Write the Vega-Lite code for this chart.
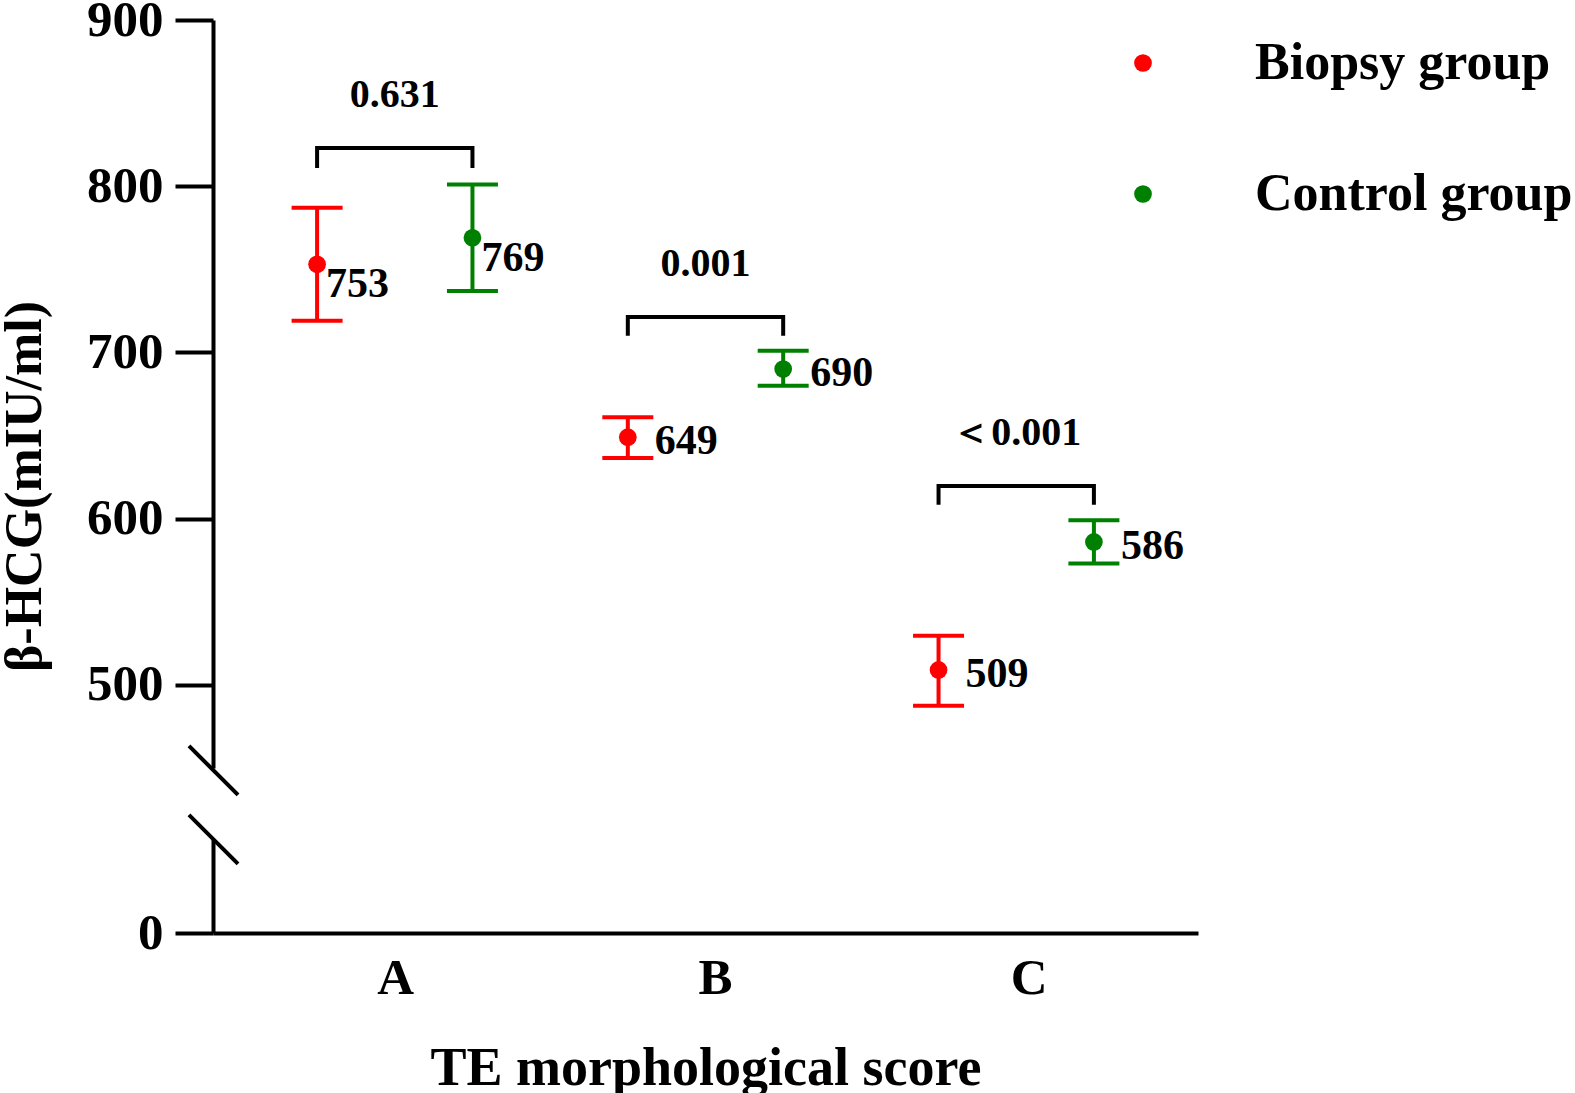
{
  "$schema": "https://vega.github.io/schema/vega-lite/v6.json",
  "padding": {"left": -2, "top": -6, "right": 0, "bottom": 0},
  "background": "white",
  "spacing": 71,
  "bounds": "flush",
  "config": {
    "view": {"stroke": null},
    "font": "Liberation Serif",
    "axis": {
      "domainColor": "black", "domainWidth": 4, "tickColor": "black", "tickWidth": 4, "tickSize": 38,
      "labelFont": "Liberation Serif", "labelFontWeight": "bold", "labelFontSize": 51, "labelColor": "black",
      "titleFont": "Liberation Serif", "titleFontWeight": "bold", "titleFontSize": 54, "titleColor": "black",
      "grid": false, "labelPadding": 12
    },
    "text": {"font": "Liberation Serif", "fontWeight": "bold", "color": "black"}
  },
  "datasets": {
    "points": [
      {"score": "A", "group": "Biopsy group", "mean": 753, "lower": 719, "upper": 787},
      {"score": "A", "group": "Control group", "mean": 769, "lower": 737, "upper": 801},
      {"score": "B", "group": "Biopsy group", "mean": 649, "lower": 636.5, "upper": 661},
      {"score": "B", "group": "Control group", "mean": 690, "lower": 680, "upper": 701},
      {"score": "C", "group": "Biopsy group", "mean": 509, "lower": 487.5, "upper": 529.5},
      {"score": "C", "group": "Control group", "mean": 586, "lower": 573, "upper": 599}
    ],
    "brackets": [
      {"score": "A", "group": "Biopsy group", "y": 811, "order": 1},
      {"score": "A", "group": "Biopsy group", "y": 823, "order": 2},
      {"score": "A", "group": "Control group", "y": 823, "order": 3},
      {"score": "A", "group": "Control group", "y": 811, "order": 4},
      {"score": "B", "group": "Biopsy group", "y": 710, "order": 1},
      {"score": "B", "group": "Biopsy group", "y": 721.3, "order": 2},
      {"score": "B", "group": "Control group", "y": 721.3, "order": 3},
      {"score": "B", "group": "Control group", "y": 710, "order": 4},
      {"score": "C", "group": "Biopsy group", "y": 608.3, "order": 1},
      {"score": "C", "group": "Biopsy group", "y": 619.7, "order": 2},
      {"score": "C", "group": "Control group", "y": 619.7, "order": 3},
      {"score": "C", "group": "Control group", "y": 608.3, "order": 4}
    ],
    "pvalues": [
      {"score": "A", "y": 823, "p": "0.631"},
      {"score": "B", "y": 721.3, "p": "0.001"},
      {"score": "C", "y": 619.7, "p": "＜0.001"}
    ],
    "breakTop": [{"x": -2.44, "y": 463.3, "x2": 2.54, "y2": 433.8}],
    "breakBottom": [{"x": -2.44, "y": 71, "x2": 2.54, "y2": 41.5}]
  },
  "vconcat": [
    {
      "width": 985,
      "height": 748,
      "resolve": {"scale": {"x": "independent"}},
      "layer": [
        {
          "data": {"name": "breakTop"},
          "mark": {"type": "rule", "color": "black", "strokeWidth": 4, "clip": false},
          "encoding": {
            "x": {"field": "x", "type": "quantitative", "scale": {"domain": [0, 100]}, "axis": null},
            "x2": {"field": "x2"},
            "y": {"field": "y", "type": "quantitative", "scale": {"domain": [450, 900], "nice": false, "zero": false}, "axis": {"values": [500, 600, 700, 800, 900], "title": "β-HCG(mIU/ml)", "titleFontSize": 52, "titleY": 466, "titlePadding": 35}},
            "y2": {"field": "y2"}
          }
        },
        {
          "layer": [
            {
              "data": {"name": "brackets"},
              "mark": {"type": "line", "color": "black", "strokeWidth": 4, "strokeJoin": "miter", "strokeCap": "butt"},
              "encoding": {
                "x": {"field": "score", "type": "nominal", "scale": {"paddingInner": 0, "paddingOuter": 0.085}, "axis": null},
                "xOffset": {"field": "group", "type": "nominal", "scale": {"paddingInner": 0, "paddingOuter": 0}},
                "y": {"field": "y", "type": "quantitative"},
                "order": {"field": "order"},
                "detail": {"field": "score"}
              }
            },
            {
              "data": {"name": "pvalues"},
              "mark": {"type": "text", "fontSize": 40, "dy": -53, "align": "center", "baseline": "middle"},
              "encoding": {
                "x": {"field": "score", "type": "nominal"},
                "y": {"field": "y", "type": "quantitative"},
                "text": {"field": "p"}
              }
            },
            {
              "data": {"name": "points"},
              "mark": {"type": "rule", "strokeWidth": 4, "opacity": 1},
              "encoding": {
                "x": {"field": "score", "type": "nominal"},
                "xOffset": {"field": "group", "type": "nominal"},
                "y": {"field": "lower", "type": "quantitative"},
                "y2": {"field": "upper"},
                "color": {"field": "group", "type": "nominal", "scale": {"domain": ["Biopsy group", "Control group"], "range": ["#FF0000", "#008000"]}}
              }
            },
            {
              "data": {"name": "points"},
              "mark": {"type": "tick", "thickness": 4, "size": 51, "orient": "horizontal", "opacity": 1},
              "encoding": {
                "x": {"field": "score", "type": "nominal"},
                "xOffset": {"field": "group", "type": "nominal"},
                "y": {"field": "lower", "type": "quantitative"},
                "color": {"field": "group", "type": "nominal"}
              }
            },
            {
              "data": {"name": "points"},
              "mark": {"type": "tick", "thickness": 4, "size": 51, "orient": "horizontal", "opacity": 1},
              "encoding": {
                "x": {"field": "score", "type": "nominal"},
                "xOffset": {"field": "group", "type": "nominal"},
                "y": {"field": "upper", "type": "quantitative"},
                "color": {"field": "group", "type": "nominal"}
              }
            },
            {
              "data": {"name": "points"},
              "mark": {"type": "point", "filled": true, "opacity": 1, "size": 314, "shape": "circle"},
              "encoding": {
                "x": {"field": "score", "type": "nominal"},
                "xOffset": {"field": "group", "type": "nominal"},
                "y": {"field": "mean", "type": "quantitative"},
                "color": {
                  "field": "group", "type": "nominal",
                  "legend": {"orient": "none", "legendX": 904, "legendY": 17, "title": null, "padding": 0,
                    "labelFont": "Liberation Serif", "labelFontWeight": "bold", "labelFontSize": 52, "labelColor": "black",
                    "symbolType": "circle", "symbolSize": 314, "symbolStrokeWidth": 0, "symbolOpacity": 1, "labelOffset": 86, "rowPadding": 79, "labelLimit": 400}
                }
              }
            },
            {
              "data": {"name": "points"},
              "transform": [{"filter": "datum.score === 'A'"}],
              "mark": {"type": "text", "fontSize": 42, "align": "left", "baseline": "middle", "dx": 9, "dy": 20},
              "encoding": {
                "x": {"field": "score", "type": "nominal"},
                "xOffset": {"field": "group", "type": "nominal"},
                "y": {"field": "mean", "type": "quantitative"},
                "text": {"field": "mean", "type": "quantitative"}
              }
            },
            {
              "data": {"name": "points"},
              "transform": [{"filter": "datum.score !== 'A'"}],
              "mark": {"type": "text", "fontSize": 42, "align": "left", "baseline": "middle", "dx": 27, "dy": 4},
              "encoding": {
                "x": {"field": "score", "type": "nominal"},
                "xOffset": {"field": "group", "type": "nominal"},
                "y": {"field": "mean", "type": "quantitative"},
                "text": {"field": "mean", "type": "quantitative"}
              }
            }
          ]
        }
      ]
    },
    {
      "width": 985,
      "height": 94,
      "resolve": {"scale": {"x": "independent"}},
      "layer": [
        {
          "data": {"name": "breakBottom"},
          "mark": {"type": "rule", "color": "black", "strokeWidth": 4, "clip": false},
          "encoding": {
            "x": {"field": "x", "type": "quantitative", "scale": {"domain": [0, 100]}, "axis": null},
            "x2": {"field": "x2"},
            "y": {"field": "y", "type": "quantitative", "scale": {"domain": [0, 56.5], "nice": false, "zero": false}, "axis": {"values": [0], "title": null}},
            "y2": {"field": "y2"}
          }
        },
        {
          "data": {"name": "points"},
          "mark": {"type": "tick", "opacity": 0},
          "encoding": {
            "x": {"field": "score", "type": "nominal", "scale": {"type": "band", "paddingInner": 0, "paddingOuter": 0.085},
              "axis": {"ticks": false, "labelAngle": 0, "labelPadding": 20, "title": "TE morphological score", "titlePadding": 38,
                "labelOffset": {"condition": [{"test": "datum.value === 'B'", "value": 10}, {"test": "datum.value === 'C'", "value": 13}], "value": 1}}},
            "y": {"datum": 0}
          }
        }
      ]
    }
  ]
}
